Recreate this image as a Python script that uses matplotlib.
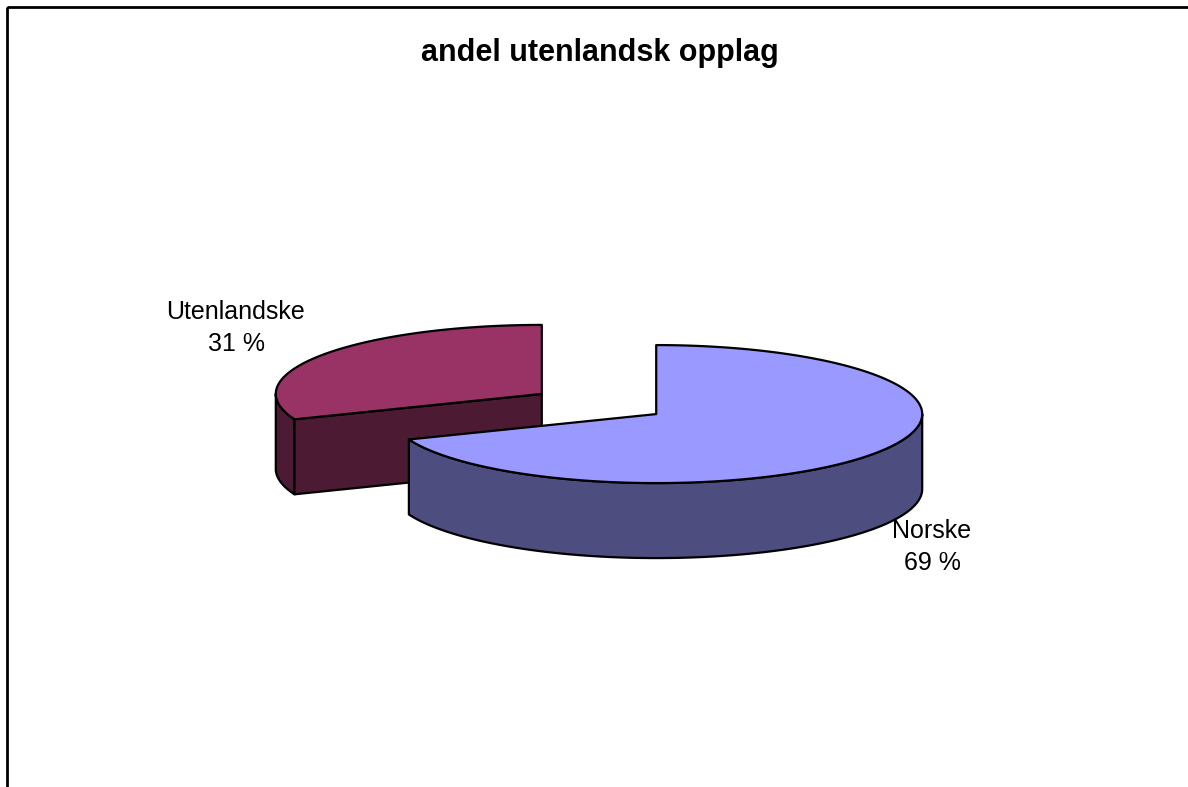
import numpy as np
import matplotlib.pyplot as plt
from matplotlib.patches import Polygon, Rectangle

plt.rcParams['font.family'] = ['Liberation Sans', 'DejaVu Sans']

categories = ["Norske", "Utenlandske"]
values = [69, 31]
percent_labels = ["69 %", "31 %"]
top_colors = ["#9999FF", "#993366"]
side_colors = ["#4D4D80", "#4D1A33"]
title = "andel utenlandsk opplag"

W, H = 1188, 787
fig = plt.figure(figsize=(W / 100, H / 100), dpi=100)
ax = fig.add_axes([0, 0, 1, 1])
ax.set_xlim(0, W)
ax.set_ylim(H, 0)
ax.axis('off')

# chart frame (extends past right/bottom like the reference)
ax.add_patch(Rectangle((7, 7), W + 50, H + 50, fill=False, edgecolor='black', lw=2, zorder=0))

ax.text(600, 53, title, ha='center', va='center', fontsize=22, fontweight='bold')

# 3D pie geometry (layout)
cx0, cy0 = 599, 404
rx, ry, depth = 266, 69, 75
explode = 0.26


def top_pt(cx, cy, t):
    return cx + rx * np.cos(t), cy - ry * np.sin(t)


total = float(sum(values))
slices = []
start = np.pi / 2
for i, v in enumerate(values):
    hi = start
    lo = start - 2 * np.pi * v / total
    start = lo
    mid = 0.5 * (lo + hi)
    cx = cx0 + explode * rx * np.cos(mid)
    cy = cy0 - explode * ry * np.sin(mid)
    slices.append(dict(i=i, lo=lo, hi=hi, mid=mid, cx=cx, cy=cy))

# draw back slices first
slices.sort(key=lambda s: -np.sin(s['mid']))

for s in slices:
    i, lo, hi, cx, cy = s['i'], s['lo'], s['hi'], s['cx'], s['cy']
    kw = dict(edgecolor='black', lw=1.6, joinstyle='round')
    # outer side: visible where sin(t) < 0
    for k in (-1, 0, 1):
        a = max(lo, -np.pi + 2 * np.pi * k)
        b = min(hi, 0 + 2 * np.pi * k)
        if b > a:
            t = np.linspace(a, b, 200)
            xs, ys = top_pt(cx, cy, t)
            pts = list(zip(xs, ys)) + list(zip(xs[::-1], ys[::-1] + depth))
            ax.add_patch(Polygon(pts, closed=True, facecolor=side_colors[i], **kw))
    # cut faces
    for ang, normal in ((lo, lo - np.pi / 2), (hi, hi + np.pi / 2)):
        if np.sin(normal) < -1e-6:
            x1, y1 = top_pt(cx, cy, ang)
            pts = [(cx, cy), (x1, y1), (x1, y1 + depth), (cx, cy + depth)]
            ax.add_patch(Polygon(pts, closed=True, facecolor=side_colors[i], **kw))
    # top face
    t = np.linspace(lo, hi, 300)
    xs, ys = top_pt(cx, cy, t)
    pts = [(cx, cy)] + list(zip(xs, ys))
    ax.add_patch(Polygon(pts, closed=True, facecolor=top_colors[i], **kw))

# data labels
label_xy = {0: (932, 547), 1: (236, 328)}
for i, name in enumerate(categories):
    x, y = label_xy[i]
    ax.text(x, y, f"{name}\n{percent_labels[i]}", ha='center', va='center',
            fontsize=18, linespacing=1.42)

fig.savefig('out.png', dpi=100)
